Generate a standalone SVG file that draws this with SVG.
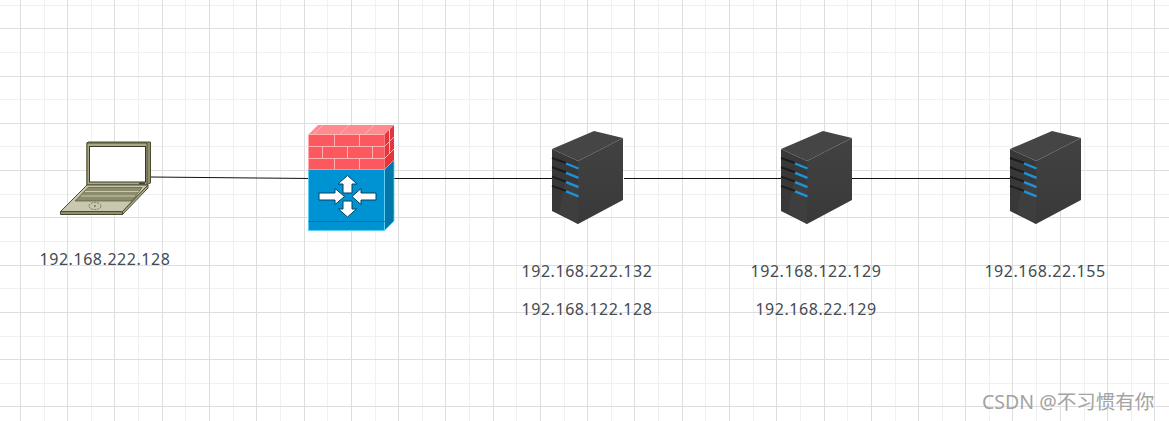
<svg xmlns="http://www.w3.org/2000/svg" width="1169" height="421" viewBox="0 0 1169 421">
<style>
.lbl{font-family:"Noto Sans","Open Sans","Noto Sans CJK SC",sans-serif;font-size:16px;fill:#444b52;text-anchor:middle;letter-spacing:.55px}
.wm{font-family:"Noto Sans","Noto Sans CJK SC",sans-serif;font-size:19.500px;fill:#a3a3a3}
.link{stroke:#111;stroke-width:1;fill:none}
.brick{stroke:#ffb3b3;stroke-width:1;fill:none}
.arr{fill:#fff;stroke:#00415f;stroke-width:1}
.led{stroke:#1d93d8;stroke-width:2.400}
.slot{stroke:#1c1c1c;stroke-width:2}
.gmaj{stroke:#dedede;stroke-width:1;fill:none;shape-rendering:crispEdges}
.gmin{stroke:#f0f0f0;stroke-width:1;fill:none;shape-rendering:crispEdges}
.ol{stroke:#4c4c32;stroke-width:1}
</style>
<defs>
<linearGradient id="side" x1="0" y1="0" x2="0" y2="1"><stop offset="0" stop-color="#424242"/><stop offset="1" stop-color="#393939"/></linearGradient>
<g id="server">
<polygon points="0,19 42,1 71,8 26,31" fill="#454545"/>
<polygon points="26,31 71,8 71,70 26,94" fill="url(#side)"/>
<polygon points="0,19 26,31 26,94 0,81" fill="#383838"/>
<polygon points="7,83 13,50 26,54 26,94" fill="#3e3e3e"/>
<path class="slot" d="M0 28L14 33M0 37.300L14 42.300M0 46.600L14 51.600M0 55.900L14 60.900"/>
<path class="led" d="M14 33.500L26.500 38.500M14 42.800L26.500 47.800M14 52.100L26.500 57.100M14 61.400L26.500 66.400"/>
</g>
</defs>
<rect width="1169" height="421" fill="#fff"/>
<g id="grid">
<path class="gmin" d="M44.500 0V421M91.500 0V421M138.500 0V421M185.500 0V421M233.500 0V421M280.500 0V421M327.500 0V421M375.500 0V421M422.500 0V421M469.500 0V421M516.500 0V421M564.500 0V421M611.500 0V421M658.500 0V421M705.500 0V421M753.500 0V421M800.500 0V421M847.500 0V421M895.500 0V421M942.500 0V421M989.500 0V421M1036.500 0V421M1084.500 0V421M1131.500 0V421"/>
<path class="gmin" d="M0 5.500H1169M0 52.500H1169M0 99.500H1169M0 146.500H1169M0 194.500H1169M0 241.500H1169M0 288.500H1169M0 336.500H1169M0 383.500H1169"/>
<path class="gmaj" d="M20.500 0V421M67.500 0V421M114.500 0V421M162.500 0V421M209.500 0V421M256.500 0V421M304.500 0V421M351.500 0V421M398.500 0V421M445.500 0V421M493.500 0V421M540.500 0V421M587.500 0V421M634.500 0V421M682.500 0V421M729.500 0V421M776.500 0V421M824.500 0V421M871.500 0V421M918.500 0V421M965.500 0V421M1012.500 0V421M1060.500 0V421M1107.500 0V421M1154.500 0V421"/>
<path class="gmaj" d="M0 28.500H1169M0 76.500H1169M0 123.500H1169M0 170.500H1169M0 217.500H1169M0 265.500H1169M0 312.500H1169M0 359.500H1169M0 406.500H1169"/>
</g>
<g id="connectors">
<path class="link" d="M150 177L310 178.500"/>
<path class="link" d="M393 178.500H553"/>
<path class="link" d="M624 178.500H782"/>
<path class="link" d="M852 178.500H1011"/>
</g>
<g id="laptop">
<polygon class="ol" points="88,142 150.500,142 150.500,183 146,185 87,185 87,143" fill="#8f8f6e"/>
<rect class="ol" x="87" y="143" width="60" height="42" fill="#a9a988"/>
<rect x="89.500" y="146.500" width="56" height="35.500" fill="#fff" stroke="#3a3a24"/>
<rect x="139" y="182.500" width="6" height="2" fill="#45452c"/>
<polygon class="ol" points="87,185 148,185 122.500,211.500 60.500,211.500" fill="#c8c8b0"/>
<polygon class="ol" points="60.500,211.500 122.500,211.500 122.500,214.500 60.500,214.500" fill="#8f8f6e"/>
<polygon class="ol" points="122.500,211.500 148,185 148,188 122.500,214.500" fill="#a9a988"/>
<polygon points="88,187.500 142,187.500 132,201 75,201" fill="#8c8c6c" stroke="#5a5a3e" stroke-width=".7"/>
<path d="M85 191.500H138.500M81 196H135" stroke="#c8c8b0" stroke-width="1"/>
<ellipse cx="95" cy="206" rx="6" ry="3.500" fill="none" stroke="#77775a" stroke-dasharray="2 1"/>
<circle cx="95" cy="206" r="1" fill="#77775a"/>
</g>
<g id="firewall">
<polygon points="308.500,134.500 318,125 394,125 384.500,134.500" fill="#ff8a8f"/>
<polygon points="384.500,134.500 394,125 394,160 384.500,169.500" fill="#e8323c"/>
<rect x="308.500" y="134.500" width="76" height="35" fill="#fb5860"/>
<path class="brick" d="M308.500 134.500H384.500M308.500 146.500H384.500M308.500 158.500H384.500M334.500 134.500V146.500M359.500 134.500V146.500M322.500 146.500V158.500M347.500 146.500V158.500M372.500 146.500V158.500M334.500 158.500V169.500M359.500 158.500V169.500M314 134L323 125M340 134L349 125M365 134L374 125M384.500 146.500L394 137M384.500 158.500L394 149M389.500 129V141M389.500 141V153"/>
<polygon points="384.500,169.500 394,160 394,221 384.500,230.500" fill="#0078ab" stroke="#5fcdf5" stroke-width=".8"/>
<rect x="308.500" y="169.500" width="76" height="61" fill="#0093d3" stroke="#5fcdf5" stroke-width="1"/>
<path d="M308.500 221.500H384.500L394 212" stroke="#0078ab" fill="none"/>
<polygon class="arr" points="347.500,175.500 357,184 352,184 352,193 343,193 343,184 338,184"/>
<polygon class="arr" points="347.500,217 338.500,209 343,209 343,201 352,201 352,209 356.500,209"/>
<polygon class="arr" points="319,193 335,193 335,188.500 344.500,196.500 335,204.500 335,200 319,200"/>
<polygon class="arr" points="376,193 361,193 361,188.500 352,196.500 361,204.500 361,200 376,200"/>
</g>
<use id="server1" href="#server" x="552" y="130"/>
<use id="server2" href="#server" x="781" y="130"/>
<use id="server3" href="#server" x="1010" y="130"/>
<g id="labels">
<text class="lbl" x="105" y="265">192.168.222.128</text>
<text class="lbl" x="587" y="277">192.168.222.132</text>
<text class="lbl" x="587" y="315">192.168.122.128</text>
<text class="lbl" x="816" y="277">192.168.122.129</text>
<text class="lbl" x="816" y="315">192.168.22.129</text>
<text class="lbl" x="1045" y="277">192.168.22.155</text>
</g>
<text class="wm" x="982" y="409">CSDN @不习惯有你</text>
</svg>
